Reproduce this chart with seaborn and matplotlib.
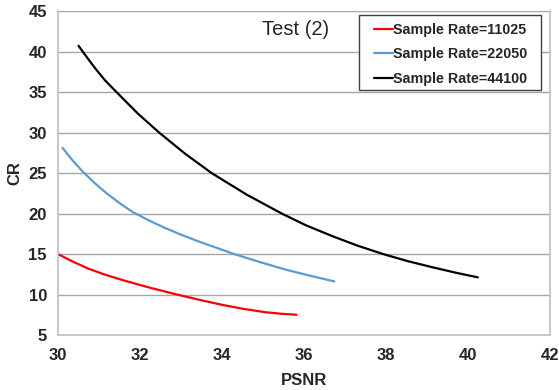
import matplotlib
matplotlib.use("Agg")
import matplotlib.pyplot as plt
import matplotlib.patches as mpatches
import seaborn as sns
import pandas as pd

# --- Data ---
psnr_11025 = [30.0, 30.35, 30.74, 31.15, 31.6, 32.2, 32.9, 33.45, 33.99, 34.5, 35.05, 35.45, 35.82]
cr_11025 = [15.0, 14.1, 13.2, 12.45, 11.75, 10.9, 10.0, 9.35, 8.74, 8.25, 7.82, 7.62, 7.5]

psnr_22050 = [30.11, 30.36, 30.62, 30.9, 31.2, 31.5, 31.82, 32.2, 32.6, 33.0, 33.46,
              34.3, 34.9, 35.5, 36.1, 36.74]
cr_22050 = [28.12, 26.55, 25.1, 23.75, 22.45, 21.3, 20.2, 19.2, 18.25, 17.4, 16.5,
            15.0, 14.05, 13.15, 12.38, 11.62]

psnr_44100 = [30.5, 30.7, 30.9, 31.15, 31.43, 31.95, 32.47, 33.1, 33.75, 34.6, 35.46, 36.05,
              36.7, 37.3, 37.93, 38.55, 39.15, 39.7, 40.24]
cr_44100 = [40.74, 39.35, 38.0, 36.45, 35.0, 32.35, 30.0, 27.4, 25.0, 22.35, 20.0, 18.55,
            17.2, 16.05, 15.0, 14.1, 13.35, 12.7, 12.12]

labels = ["Sample Rate=11025", "Sample Rate=22050", "Sample Rate=44100"]
colors = ["#ff0000", "#5b9bd5", "#000000"]

frames = []
for lab, xs, ys in zip(labels, [psnr_11025, psnr_22050, psnr_44100],
                       [cr_11025, cr_22050, cr_44100]):
    frames.append(pd.DataFrame({"PSNR": xs, "CR": ys, "series": lab}))
df = pd.concat(frames, ignore_index=True)

sns.set_style("white")
plt.rcParams["font.family"] = ["Liberation Sans", "DejaVu Sans"]

W, H = 559, 390
fig = plt.figure(figsize=(W / 100, H / 100), dpi=100)
ax = fig.add_axes([58 / W, 1 - 335 / H, (550 - 58) / W, (335 - 11.3) / H])

sns.lineplot(data=df, x="PSNR", y="CR", hue="series", palette=colors,
             sort=False, estimator=None, linewidth=1.6, ax=ax)

ax.set_xlim(30, 42)
ax.set_ylim(5, 45)
ax.set_xticks(range(30, 43, 2))
ax.set_yticks(range(5, 46, 5))
ax.yaxis.grid(True, color="#a6a6a6", linewidth=1)
ax.xaxis.grid(False)
ax.set_axisbelow(True)

for side in ["left", "right", "bottom"]:
    ax.spines[side].set_color("#bfbfbf")
    ax.spines[side].set_linewidth(1.2)
ax.spines["top"].set_visible(False)

ax.tick_params(axis="both", which="both", length=5, color="#bfbfbf",
               direction="out", labelsize=12, pad=4)
ax.tick_params(axis="y", length=4)
for t in ax.get_xticklabels() + ax.get_yticklabels():
    t.set_fontweight("bold")

ax.set_xlabel("PSNR", fontsize=12, fontweight="bold", labelpad=7.5)
ax.set_ylabel("CR", fontsize=12, fontweight="bold", labelpad=4.5)

ax.text(0.482, 0.944, "Test (2)", transform=ax.transAxes, ha="center",
        va="center", fontsize=14.5)

# legend box drawn separately so the padding matches the reference
box = mpatches.Rectangle((359 / W, 1 - 90 / H), 182 / W, 75 / H,
                         transform=fig.transFigure, facecolor="white",
                         edgecolor="#404040", linewidth=1, zorder=5)
ax.add_patch(box)
box.set_clip_on(False)

leg = ax.legend(title=None, loc="upper left", bbox_to_anchor=(374 / W, 1 - 23 / H),
                bbox_transform=fig.transFigure, frameon=False, fontsize=10.3,
                handlelength=1.3, handletextpad=0.05, borderpad=0,
                labelspacing=0.72, borderaxespad=0)
leg.set_zorder(6)
for t in leg.get_texts():
    t.set_fontweight("bold")

fig.savefig("out.png", dpi=100)
